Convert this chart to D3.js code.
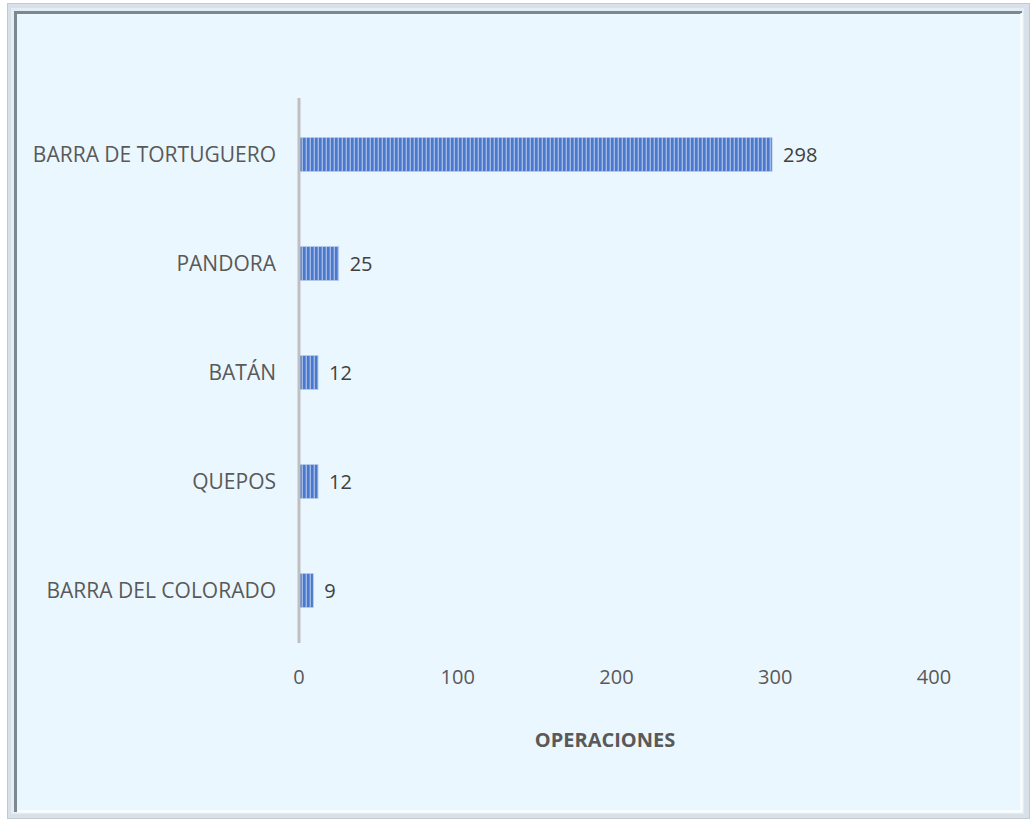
<!doctype html>
<html>
<head>
<meta charset="utf-8">
<title>Operaciones</title>
<script src="https://cdn.jsdelivr.net/npm/d3@7"></script>
<style>
  body { margin: 0; background: #ffffff; }
  svg text { font-family: "Open Sans", Lato, sans-serif; }
</style>
</head>
<body>
<svg id="chart" width="1030" height="819"></svg>
<script>
// data
var categories = ["BARRA DE TORTUGUERO", "PANDORA", "BATÁN", "QUEPOS", "BARRA DEL COLORADO"];
var operaciones = [298, 25, 12, 12, 9];
var xTicks = [0, 100, 200, 300, 400];
var axisTitle = "OPERACIONES";

var svg = d3.select("#chart");

// frame
svg.append("rect").attr("x", 7.5).attr("y", 3.5).attr("width", 1022).attr("height", 815)
  .attr("fill", "#d8e1e9").attr("stroke", "#c5cacf");
svg.append("rect").attr("x", 11).attr("y", 8).attr("width", 1013).attr("height", 806)
  .attr("fill", "#e4edf3");
svg.append("rect").attr("x", 14).attr("y", 11).attr("width", 1008).attr("height", 801)
  .attr("fill", "#ebf7fe");
// bevel
svg.append("path").attr("d", "M15.5,812 V12.5 H1022")
  .attr("fill", "none").attr("stroke", "#7d8790").attr("stroke-width", 3);
svg.append("path").attr("d", "M17,811.5 H1021.5 V13")
  .attr("fill", "none").attr("stroke", "#ffffff").attr("stroke-width", 2);

// stripe pattern
var defs = svg.append("defs");
var pat = defs.append("pattern").attr("id", "stripes")
  .attr("patternUnits", "userSpaceOnUse").attr("width", 4).attr("height", 10);
pat.append("rect").attr("width", 4).attr("height", 10).attr("fill", "#4a78cc");
pat.append("rect").attr("x", 2).attr("width", 1).attr("height", 10).attr("fill", "#9fb8e6");
pat.append("rect").attr("x", 1).attr("width", 1).attr("height", 10).attr("fill", "#6d92d6");

var x = d3.scaleLinear().domain([0, 400]).range([299, 934]);
var y = d3.scaleBand().domain(categories).range([100, 645]).paddingInner(0.69).paddingOuter(0.345);

// bars
svg.selectAll(".bar").data(operaciones).enter().append("rect")
  .attr("class", "bar")
  .attr("x", x(0))
  .attr("y", function(d, i) { return y(categories[i]); })
  .attr("width", function(d) { return x(d) - x(0); })
  .attr("height", y.bandwidth())
  .attr("fill", "url(#stripes)")
  .attr("stroke", "#b4c7ea").attr("stroke-width", 0.8);

// axis line
svg.append("line").attr("x1", x(0)).attr("x2", x(0)).attr("y1", 98).attr("y2", 643)
  .attr("stroke", "#bfbfbf").attr("stroke-width", 3);

// value labels
svg.selectAll(".val").data(operaciones).enter().append("text")
  .attr("class", "val")
  .attr("x", function(d) { return x(d) + 11; })
  .attr("y", function(d, i) { return y(categories[i]) + y.bandwidth() / 2; })
  .attr("dy", "0.36em")
  .attr("font-size", 20).attr("fill", "#404040")
  .text(function(d) { return d; });

// category labels
svg.selectAll(".cat").data(categories).enter().append("text")
  .attr("class", "cat")
  .attr("x", 276)
  .attr("y", function(d) { return y(d) + y.bandwidth() / 2; })
  .attr("dy", "0.36em")
  .attr("text-anchor", "end")
  .attr("font-size", 21).attr("fill", "#595959")
  .text(function(d) { return d; });

// x tick labels
svg.selectAll(".tick").data(xTicks).enter().append("text")
  .attr("class", "tick")
  .attr("x", function(d) { return x(d); })
  .attr("y", 677).attr("dy", "0.36em")
  .attr("text-anchor", "middle")
  .attr("font-size", 20).attr("fill", "#595959")
  .text(function(d) { return d; });

// axis title
svg.append("text")
  .attr("x", 605).attr("y", 740).attr("dy", "0.36em")
  .attr("text-anchor", "middle")
  .attr("font-size", 20).attr("font-weight", "bold").attr("fill", "#595959")
  .text(axisTitle);
</script>
</body>
</html>
